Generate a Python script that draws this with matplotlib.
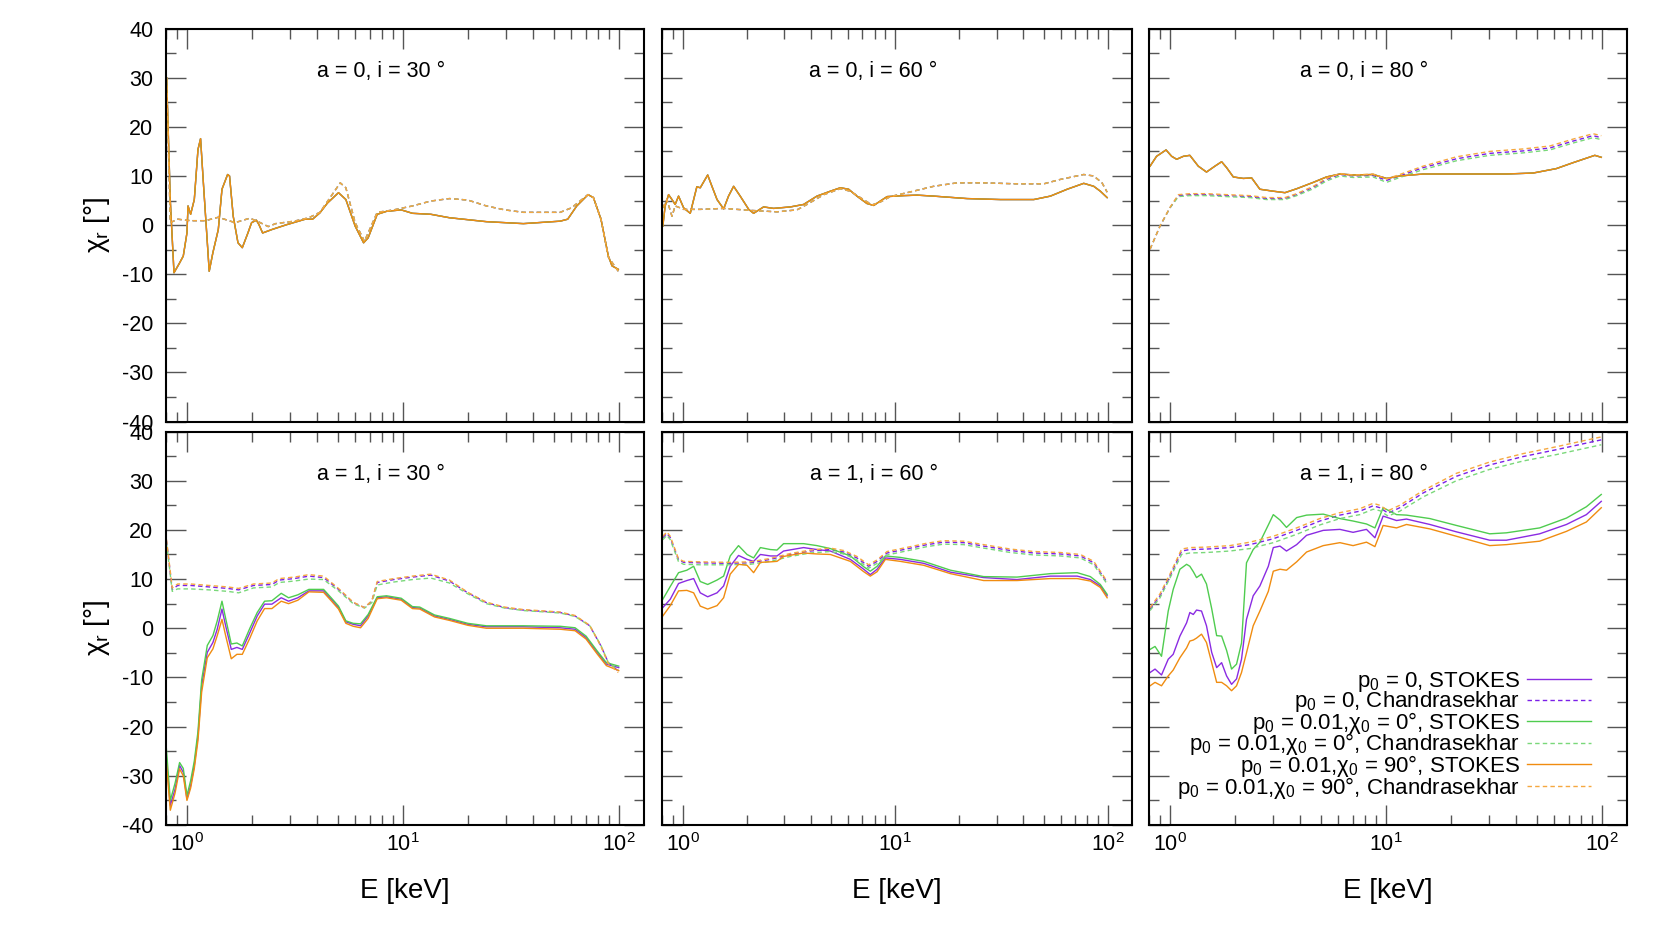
import numpy as np
import matplotlib
matplotlib.use('Agg')
import matplotlib.pyplot as plt
from matplotlib.ticker import MultipleLocator, LogLocator, NullFormatter

plt.rcParams['font.family'] = ['Liberation Sans', 'DejaVu Sans']
plt.rcParams['mathtext.fontset'] = 'custom'
plt.rcParams['mathtext.rm'] = 'Liberation Sans'
plt.rcParams['mathtext.it'] = 'Liberation Sans:italic'
plt.rcParams['axes.unicode_minus'] = False

# ---- data: log10(E/keV) grids and chi_r values [deg] ----

# a = 0, i = 30
A_sol_lx = [-0.094, -0.077, -0.060, -0.034, -0.017, 0.0, 0.005, 0.017, 0.034, 0.051, 0.063, 0.077, 0.103, 0.120,
            0.145, 0.162, 0.188, 0.197, 0.214, 0.236, 0.256, 0.282, 0.299, 0.321, 0.333, 0.350, 0.393, 0.462,
            0.547, 0.581, 0.615, 0.650, 0.701, 0.735, 0.778, 0.817, 0.838, 0.880, 0.923, 0.991, 1.043, 1.128,
            1.214, 1.385, 1.556, 1.726, 1.761, 1.803, 1.855, 1.880, 1.915, 1.949, 1.966, 1.995]
A_sol = [30, 5, -9.7, -7.7, -6.3, -1.6, 3.9, 2.2, 5.2, 15.4, 17.6, 7.9, -9.4, -5.6, -0.9, 7.3, 10.3, 10.0, 1.8,
         -3.6, -4.6, -1.6, 0.5, 1.0, 0.1, -1.6, -0.9, 0.1, 1.2, 1.2, 2.5, 4.5, 6.6, 5.2, -0.2, -3.6, -2.6, 2.2,
         2.8, 3.1, 2.4, 2.2, 1.5, 0.7, 0.3, 0.8, 1.2, 3.9, 6.2, 5.6, 1.2, -6.3, -8.3, -9.0]
A_das_lx = [-0.094, -0.077, -0.043, 0.017, 0.085, 0.145, 0.222, 0.291, 0.325, 0.376, 0.410, 0.496, 0.564, 0.615,
            0.667, 0.709, 0.735, 0.778, 0.821, 0.880, 0.957, 1.043, 1.128, 1.214, 1.299, 1.385, 1.470, 1.556,
            1.726, 1.778, 1.855, 1.880, 1.915, 1.949, 1.995]
A_das = [30, 0.5, 1.2, 0.9, 0.9, 1.6, 0.5, 1.4, 0.8, -0.3, 0.3, 0.8, 1.5, 2.6, 5.9, 8.6, 7.6, 0.5, -3.3, 2.6,
         3.1, 3.9, 4.9, 5.4, 5.1, 3.9, 3.1, 2.6, 2.6, 3.5, 6.2, 5.6, 1.2, -6.5, -9.4]

# a = 0, i = 60
B_sol_lx = [-0.093, -0.082, -0.066, -0.050, -0.035, -0.019, 0.005, 0.036, 0.052, 0.067, 0.083, 0.118, 0.138,
            0.162, 0.193, 0.216, 0.240, 0.271, 0.311, 0.334, 0.381, 0.428, 0.507, 0.569, 0.632, 0.695, 0.742,
            0.781, 0.820, 0.867, 0.899, 0.930, 0.962, 1.040, 1.103, 1.181, 1.338, 1.495, 1.652, 1.730, 1.809,
            1.887, 1.934, 1.965, 1.997]
B_sol = [-0.2, 3.9, 6.2, 5.2, 4.2, 5.9, 3.5, 2.4, 5.2, 7.8, 7.6, 10.2, 7.9, 5.2, 3.3, 5.9, 7.9, 5.9, 3.2, 2.4,
         3.7, 3.4, 3.7, 4.2, 5.9, 6.9, 7.6, 7.3, 5.9, 4.4, 4.0, 4.9, 5.8, 6.0, 6.1, 5.9, 5.4, 5.2, 5.2, 5.9,
         7.3, 8.5, 7.9, 6.9, 5.6]
B_das_lx = [-0.093, -0.074, -0.050, -0.035, -0.011, 0.005, 0.083, 0.193, 0.318, 0.444, 0.538, 0.585, 0.664,
            0.742, 0.789, 0.836, 0.891, 0.930, 0.977, 1.056, 1.181, 1.291, 1.416, 1.573, 1.699, 1.777, 1.887,
            1.934, 1.973, 1.997]
B_das = [3.5, 5.2, 1.8, 3.9, 3.5, 3.2, 3.2, 3.4, 3.0, 2.7, 3.1, 4.2, 6.2, 7.4, 6.9, 5.6, 4.1, 4.7, 5.8, 6.6,
         7.9, 8.6, 8.6, 8.4, 8.4, 9.3, 10.3, 10.0, 8.6, 6.7]

# a = 0, i = 80
C_sol_lx = [-0.092, -0.062, -0.018, 0.008, 0.031, 0.062, 0.092, 0.131, 0.169, 0.208, 0.239, 0.262, 0.293,
            0.339, 0.378, 0.416, 0.478, 0.532, 0.586, 0.663, 0.724, 0.786, 0.847, 0.940, 1.002, 1.063, 1.171,
            1.325, 1.556, 1.680, 1.787, 1.864, 1.965, 1.995]
C_sol = [12.0, 14.0, 15.3, 14.0, 13.4, 14.0, 14.2, 12.0, 10.8, 12.0, 12.9, 11.7, 9.8, 9.5, 9.6, 7.3, 6.9, 6.6,
         7.4, 8.7, 9.8, 10.4, 10.2, 10.3, 9.5, 10.0, 10.4, 10.4, 10.4, 10.6, 11.5, 12.7, 14.2, 13.8]
C_das_lx = [-0.092, -0.046, 0.0, 0.039, 0.092, 0.169, 0.262, 0.370, 0.447, 0.532, 0.586, 0.663, 0.724, 0.786,
            0.847, 0.940, 1.002, 1.063, 1.171, 1.325, 1.479, 1.633, 1.757, 1.864, 1.957, 1.995]
C_das_p = [-4.9, -0.2, 3.5, 6.0, 6.2, 6.2, 6.0, 5.8, 5.4, 5.4, 6.2, 7.7, 9.3, 10.3, 10.0, 10.1, 9.1, 10.0, 11.7,
           13.5, 14.6, 15.1, 15.7, 17.1, 18.2, 17.8]
C_das_g = [-4.9, -0.2, 3.5, 5.8, 6.0, 6.0, 5.8, 5.6, 5.2, 5.2, 6.0, 7.4, 9.0, 10.0, 9.7, 9.8, 8.7, 9.7, 11.3,
           13.1, 14.2, 14.7, 15.3, 16.7, 17.8, 17.4]
C_das_o = [-4.9, -0.2, 3.6, 6.2, 6.4, 6.4, 6.2, 6.0, 5.6, 5.6, 6.4, 7.9, 9.5, 10.5, 10.2, 10.4, 9.4, 10.3, 12.0,
           13.9, 15.0, 15.5, 16.1, 17.5, 18.6, 18.2]

# a = 1, i = 30
D_sol_lx = [-0.096, -0.077, -0.055, -0.034, -0.017, 0.0, 0.017, 0.034, 0.051, 0.068, 0.094, 0.120, 0.140, 0.162,
            0.179, 0.205, 0.231, 0.256, 0.291, 0.325, 0.359, 0.393, 0.436, 0.470, 0.513, 0.564, 0.632, 0.667,
            0.701, 0.735, 0.769, 0.803, 0.838, 0.880, 0.923, 0.991, 1.043, 1.077, 1.145, 1.214, 1.299, 1.385,
            1.556, 1.726, 1.795, 1.846, 1.897, 1.940, 1.997]
D_sol_p = [-26, -36, -32.7, -27.9, -29.3, -34.7, -32.0, -27.9, -21.9, -11.7, -4.9, -2.9, -0.2, 3.9, 0.5, -4.3,
           -3.9, -4.3, -0.9, 2.5, 4.9, 4.9, 6.2, 5.5, 6.2, 7.6, 7.6, 5.9, 4.2, 1.3, 0.8, 0.5, 2.5, 6.2, 6.4, 5.9,
           4.2, 4.1, 2.5, 1.8, 0.8, 0.3, 0.3, 0.1, -0.2, -1.9, -4.9, -7.3, -8.0]
D_sol_g = [-24, -35, -31.5, -27.3, -28.5, -34, -31, -27, -21, -10.5, -3.5, -1.5, 1.5, 5.5, 2, -3.2, -3.0, -3.6,
           0, 3.2, 5.5, 5.6, 7.1, 6.2, 6.8, 7.9, 7.9, 6.2, 4.5, 1.5, 1.0, 0.9, 2.8, 6.4, 6.6, 6.1, 4.4, 4.3, 2.7,
           2.0, 1.0, 0.5, 0.5, 0.4, 0.1, -1.6, -4.6, -7.0, -7.7]
D_sol_o = [-27, -37, -33.5, -28.6, -30, -35, -32.5, -28.5, -22.8, -13, -6, -4.2, -1.5, 1.8, -1.5, -6.2, -5.3,
           -5.3, -2, 1.5, 4.0, 4.0, 5.5, 5.0, 5.7, 7.4, 7.3, 5.6, 3.9, 1.0, 0.4, 0.1, 2.0, 6.0, 6.2, 5.7, 4.0,
           3.9, 2.3, 1.6, 0.6, 0.0, 0.0, -0.2, -0.5, -2.2, -5.2, -7.6, -8.6]
D_das_lx = [-0.099, -0.068, -0.043, 0.017, 0.103, 0.188, 0.239, 0.308, 0.393, 0.427, 0.496, 0.564, 0.632, 0.701,
            0.769, 0.821, 0.855, 0.880, 0.957, 1.043, 1.128, 1.214, 1.299, 1.385, 1.470, 1.556, 1.726, 1.795,
            1.863, 1.915, 1.949, 1.995]
D_das_p = [19.4, 7.9, 8.7, 8.7, 8.4, 8.1, 7.8, 8.7, 8.9, 9.8, 10.1, 10.6, 10.3, 7.9, 5.2, 4.2, 5.5, 9.3, 9.9,
           10.4, 10.8, 9.6, 7.2, 5.2, 4.2, 3.7, 3.2, 2.5, 0.5, -3.6, -7.0, -8.7]
D_das_g = [19.0, 7.5, 8.0, 8.0, 7.8, 7.5, 7.2, 8.2, 8.4, 9.3, 9.6, 10.0, 9.9, 7.6, 5.0, 4.1, 5.2, 8.8, 9.4, 9.9,
           10.2, 9.2, 7.0, 5.0, 4.1, 3.6, 3.1, 2.4, 0.5, -3.5, -7.0, -8.5]
D_das_o = [19.6, 8.2, 9.0, 9.0, 8.7, 8.4, 8.1, 9.0, 9.2, 10.1, 10.4, 10.9, 10.6, 8.1, 5.3, 4.2, 5.6, 9.5, 10.1,
           10.6, 11.0, 9.8, 7.3, 5.3, 4.3, 3.8, 3.3, 2.6, 0.6, -3.7, -7.2, -9.0]

# a = 1, i = 60
E_sol_lx = [-0.093, -0.058, -0.019, 0.020, 0.052, 0.083, 0.118, 0.162, 0.193, 0.224, 0.263, 0.303, 0.334, 0.366,
            0.413, 0.444, 0.475, 0.569, 0.632, 0.695, 0.789, 0.852, 0.883, 0.915, 0.954, 1.024, 1.134, 1.260,
            1.416, 1.573, 1.730, 1.856, 1.918, 1.965, 1.997]
E_sol_p = [4.2, 5.9, 9.1, 9.7, 10.1, 7.2, 6.4, 7.2, 8.6, 12.6, 14.8, 14.0, 13.6, 15.0, 14.7, 14.7, 15.7, 16.4,
           16.0, 15.7, 14.0, 12.0, 10.9, 12.0, 14.3, 14.0, 13.2, 11.4, 10.3, 9.9, 10.6, 10.6, 9.9, 8.6, 6.6]
E_sol_g = [5.9, 8.5, 11.3, 11.8, 12.6, 9.5, 8.9, 9.8, 10.6, 14.7, 16.8, 15.0, 14.3, 16.4, 16.0, 15.9, 17.2, 17.2,
           16.8, 16.2, 14.7, 12.5, 11.6, 12.6, 14.7, 14.4, 13.6, 11.8, 10.5, 10.4, 11.1, 11.3, 10.5, 8.9, 6.9]
E_sol_o = [2.5, 4.6, 7.6, 7.7, 7.2, 4.5, 3.9, 4.6, 6.2, 11.0, 13.0, 12.8, 11.3, 13.4, 13.5, 13.6, 14.6, 15.3,
           15.1, 15.0, 13.6, 11.5, 10.6, 11.5, 14.0, 13.6, 12.8, 11.1, 9.7, 9.7, 10.1, 10.1, 9.6, 8.3, 6.2]
E_das_lx = [-0.093, -0.074, -0.058, -0.019, 0.005, 0.083, 0.209, 0.318, 0.413, 0.507, 0.601, 0.695, 0.758, 0.820,
            0.875, 0.915, 0.962, 1.040, 1.150, 1.228, 1.322, 1.416, 1.542, 1.652, 1.777, 1.871, 1.934, 1.997]
E_das_p = [18.4, 19.3, 18.4, 13.9, 13.4, 13.3, 13.2, 13.3, 14.0, 15.0, 15.7, 16.0, 15.5, 14.3, 12.6, 13.6, 15.3,
           16.0, 17.0, 17.5, 17.4, 16.7, 15.8, 15.3, 15.1, 14.7, 13.3, 9.3]
E_das_g = [18.0, 18.9, 18.0, 13.5, 13.0, 12.9, 12.9, 13.0, 13.6, 14.6, 15.3, 15.6, 15.1, 13.9, 12.2, 13.2, 14.9,
           15.6, 16.6, 17.1, 17.0, 16.3, 15.4, 14.9, 14.7, 14.3, 12.9, 9.0]
E_das_o = [18.7, 19.6, 18.7, 14.1, 13.6, 13.5, 13.4, 13.5, 14.2, 15.2, 15.9, 16.3, 15.8, 14.6, 12.9, 13.9, 15.6,
           16.3, 17.3, 17.8, 17.7, 17.0, 16.1, 15.6, 15.4, 15.0, 13.6, 9.5]

# a = 1, i = 80
F_sol_lx = [-0.092, -0.069, -0.039, -0.008, 0.015, 0.046, 0.077, 0.092, 0.108, 0.123, 0.146, 0.169, 0.193, 0.216,
            0.239, 0.262, 0.285, 0.308, 0.331, 0.354, 0.385, 0.416, 0.455, 0.478, 0.509, 0.539, 0.586, 0.632,
            0.709, 0.786, 0.847, 0.909, 0.948, 0.986, 1.048, 1.094, 1.202, 1.325, 1.479, 1.556, 1.710, 1.834,
            1.926, 1.995]
F_sol_p = [-9.0, -8.3, -9.5, -6.3, -5.3, -1.6, 1.1, 3.2, 2.8, 3.7, 3.5, 0.5, -4.9, -8.0, -7.0, -9.7, -11.4, -10.3,
           -6.3, 1.8, 6.6, 8.6, 12.6, 16.4, 16.7, 15.7, 17.0, 18.9, 19.9, 20.1, 19.5, 20.1, 18.4, 22.8, 21.9, 22.2,
           21.1, 19.6, 17.9, 17.9, 19.2, 21.1, 23.1, 25.8]
F_sol_g = [-4.3, -3.7, -5.7, 3.5, 7.9, 12.0, 13.0, 12.6, 11.5, 10.3, 11.0, 9.0, 4.0, -1.5, -1.6, -4.5, -8.3, -7.3,
           -3.0, 13.3, 16.0, 17.5, 21.0, 23.1, 22.0, 20.5, 22.5, 23.0, 23.2, 22.3, 21.8, 21.2, 20.4, 24.5, 23.1,
           23.0, 22.3, 20.9, 19.2, 19.4, 20.4, 22.4, 24.7, 27.2]
F_sol_o = [-11.7, -11.0, -11.7, -9.7, -8.5, -6.0, -4.0, -2.6, -2.4, -2.0, -1.2, -2.9, -7.0, -11.0, -11.0, -11.7,
           -12.7, -11.7, -9.0, -5.0, 0.5, 3.5, 7.5, 11.6, 12.0, 11.8, 13.5, 15.5, 16.8, 17.4, 16.8, 17.5, 16.6,
           20.9, 20.4, 21.1, 20.2, 18.7, 16.8, 17.0, 17.7, 19.7, 21.6, 24.5]
F_das_lx = [-0.092, -0.046, 0.0, 0.054, 0.092, 0.169, 0.277, 0.370, 0.478, 0.586, 0.693, 0.786, 0.878, 0.940,
            0.971, 1.009, 1.063, 1.171, 1.325, 1.479, 1.633, 1.787, 1.911, 1.995]
F_das_p = [3.9, 6.6, 10.6, 15.7, 16.0, 16.1, 16.4, 17.0, 18.2, 19.9, 21.8, 23.0, 23.8, 24.9, 24.5, 23.4, 24.5,
           27.5, 30.9, 33.2, 34.9, 36.3, 37.5, 38.3]
F_das_g = [3.6, 6.2, 10.2, 15.0, 15.3, 15.4, 15.7, 16.2, 17.4, 19.1, 21.0, 22.3, 23.1, 24.2, 23.9, 22.8, 23.8,
           26.7, 30.0, 32.3, 34.0, 35.3, 36.5, 37.3]
F_das_o = [4.2, 7.0, 11.0, 16.1, 16.4, 16.5, 16.8, 17.5, 18.7, 20.4, 22.3, 23.5, 24.3, 25.4, 25.0, 23.9, 25.0,
           28.0, 31.5, 33.8, 35.5, 36.9, 38.1, 38.9]

titles = ['a = 0, i = 30 °', 'a = 0, i = 60 °', 'a = 0, i = 80 °',
          'a = 1, i = 30 °', 'a = 1, i = 60 °', 'a = 1, i = 80 °']
labels = ['p$_0$ = 0, STOKES', 'p$_0$ = 0, Chandrasekhar',
          'p$_0$ = 0.01,χ$_0$ = 0°, STOKES', 'p$_0$ = 0.01,χ$_0$ = 0°, Chandrasekhar',
          'p$_0$ = 0.01,χ$_0$ = 90°, STOKES', 'p$_0$ = 0.01,χ$_0$ = 90°, Chandrasekhar']

# per panel: (solid grid, [purple, green, orange]), (dashed grid, [purple, green, orange])
panels = [
    ((A_sol_lx, [A_sol, A_sol, A_sol]), (A_das_lx, [A_das, A_das, A_das])),
    ((B_sol_lx, [B_sol, B_sol, B_sol]), (B_das_lx, [B_das, B_das, B_das])),
    ((C_sol_lx, [C_sol, C_sol, C_sol]), (C_das_lx, [C_das_p, C_das_g, C_das_o])),
    ((D_sol_lx, [D_sol_p, D_sol_g, D_sol_o]), (D_das_lx, [D_das_p, D_das_g, D_das_o])),
    ((E_sol_lx, [E_sol_p, E_sol_g, E_sol_o]), (E_das_lx, [E_das_p, E_das_g, E_das_o])),
    ((F_sol_lx, [F_sol_p, F_sol_g, F_sol_o]), (F_das_lx, [F_das_p, F_das_g, F_das_o])),
]

sol_colors = ['#8a2be2', '#4fcc4f', '#f08c10']
das_colors = ['#7b1fe8', '#7ad87a', '#f5a840']
dash = (0, (3.2, 2.3))

W, H = 1661, 949
fig = plt.figure(figsize=(W / 100, H / 100), dpi=100)
cols = [(166, 478), (662, 470), (1149, 478)]
rows = [(28.6, 393), (431.5, 393.5)]

axes = []
for k in range(6):
    r, c = divmod(k, 3)
    left, w = cols[c]
    top, h = rows[r]
    ax = fig.add_axes([left / W, 1 - (top + h) / H, w / W, h / H])
    axes.append(ax)
    (slx, sols), (dlx, dass) = panels[k]
    handles = []
    for j in range(3):
        l1, = ax.plot(10 ** np.array(slx), sols[j], color=sol_colors[j], lw=1.0)
        l2, = ax.plot(10 ** np.array(dlx), dass[j], color=das_colors[j], lw=1.0, ls=dash)
        handles += [l1, l2]
    ax.set_xscale('log')
    ax.set_xlim(0.8, 130)
    ax.set_ylim(-40, 40)
    ax.yaxis.set_major_locator(MultipleLocator(10))
    ax.yaxis.set_minor_locator(MultipleLocator(5))
    ax.xaxis.set_major_locator(LogLocator(base=10, numticks=10))
    ax.xaxis.set_minor_locator(LogLocator(base=10, subs=np.arange(2, 10), numticks=20))
    ax.xaxis.set_minor_formatter(NullFormatter())
    ax.tick_params(which='both', direction='in', top=True, right=True, color='#555555', width=1.0,
                   labelsize=15.5)
    ax.tick_params(which='major', length=14.4)
    ax.tick_params(which='minor', length=7.5)
    ax.tick_params(axis='y', pad=9)
    ax.tick_params(axis='x', pad=6)
    for s in ax.spines.values():
        s.set_linewidth(1.5)
        s.set_color('black')
    ax.text(0.45, 0.89, titles[k], transform=ax.transAxes, ha='center', va='center', fontsize=15.5)
    if c > 0:
        ax.tick_params(labelleft=False)
    else:
        ax.set_ylabel('χ$_\\mathregular{r}$ [°]', fontsize=20, labelpad=7)
    if r == 0:
        ax.tick_params(labelbottom=False)
    else:
        ax.set_xlabel('E [keV]', fontsize=20, labelpad=16)

leg = axes[5].legend(handles, labels, loc='lower right', bbox_to_anchor=(0.925, 0.062),
                     frameon=False, fontsize=16, markerfirst=False, handlelength=2.9,
                     handletextpad=0.3, labelspacing=-0.2, borderpad=0, borderaxespad=0)

fig.savefig('out.png', dpi=100)
